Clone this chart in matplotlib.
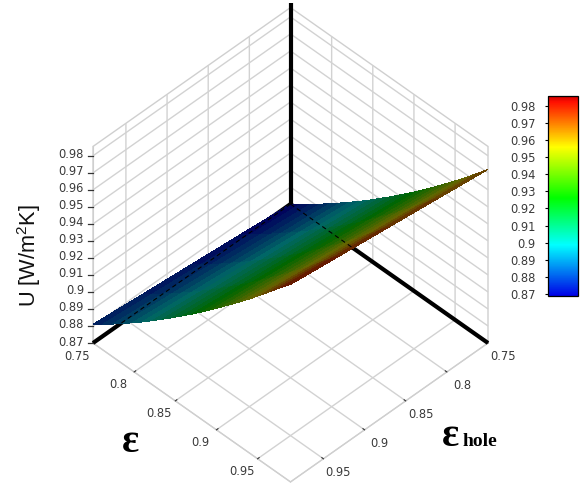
import numpy as np
import matplotlib
matplotlib.use("Agg")
import matplotlib.pyplot as plt
from matplotlib.colors import LinearSegmentedColormap, Normalize
from matplotlib.cm import ScalarMappable
from matplotlib.lines import Line2D
from mpl_toolkits.mplot3d import proj3d

plt.rcParams['font.family'] = ['DejaVu Sans']
plt.rcParams['mathtext.default'] = 'regular'

# Data
eps = [0.75 + 0.012 * i for i in range(21)]
eps_hole = [0.75, 0.81, 0.87, 0.93, 0.99]
u_hole_a = [0.8700, 0.8740, 0.8780, 0.8822, 0.8866, 0.8910, 0.8956, 0.9002, 0.9050, 0.9100, 0.9150,
            0.9202, 0.9254, 0.9308, 0.9364, 0.9420, 0.9478, 0.9536, 0.9596, 0.9658, 0.9720]
u_hole_b = [0.8728, 0.8768, 0.8808, 0.8850, 0.8895, 0.8940, 0.8986, 0.9033, 0.9082, 0.9132, 0.9182,
            0.9234, 0.9287, 0.9342, 0.9398, 0.9454, 0.9512, 0.9571, 0.9632, 0.9694, 0.9755]
u_hole_c = [0.8755, 0.8796, 0.8836, 0.8879, 0.8924, 0.8970, 0.9016, 0.9064, 0.9113, 0.9163, 0.9214,
            0.9267, 0.9320, 0.9375, 0.9431, 0.9488, 0.9547, 0.9606, 0.9667, 0.9729, 0.9790]
u_hole_d = [0.8782, 0.8824, 0.8865, 0.8908, 0.8953, 0.8999, 0.9046, 0.9095, 0.9144, 0.9195, 0.9246,
            0.9299, 0.9353, 0.9409, 0.9465, 0.9522, 0.9581, 0.9641, 0.9703, 0.9765, 0.9825]
u_hole_e = [0.8810, 0.8852, 0.8893, 0.8937, 0.8982, 0.9028, 0.9076, 0.9125, 0.9175, 0.9226, 0.9278,
            0.9331, 0.9386, 0.9442, 0.9499, 0.9556, 0.9615, 0.9676, 0.9738, 0.9801, 0.9860]
z_ticks = [0.87, 0.88, 0.89, 0.90, 0.91, 0.92, 0.93, 0.94, 0.95, 0.96, 0.97, 0.98]
z_labels = ['0.87', '0.88', '0.89', '0.9', '0.91', '0.92', '0.93', '0.94', '0.95', '0.96', '0.97', '0.98']
xy_ticks = [0.75, 0.80, 0.85, 0.90, 0.95]
xy_labels = ['0.75', '0.8', '0.85', '0.9', '0.95']
cbar_limits = (0.8688, 0.9858)
cbar_stops = [(0.0, '#0000e6'), (0.255, '#00ffff'), (0.49, '#00ff00'),
              (0.745, '#ffff00'), (0.97, '#ff1000'), (1.0, '#d00000')]
shade = 0.40

W, H = 582, 486
fig = plt.figure(figsize=(W / 100, H / 100), dpi=100)
ax = fig.add_axes([0.1, 0.1, 0.8, 0.8], projection='3d', computed_zorder=False)
ax.set_proj_type('ortho')
ax.view_init(elev=44.7, azim=45)
ax.set_box_aspect((1, 1, 0.99))
xl = (0.75, 0.99); yl = (0.75, 0.99); zl = (0.87, 0.9855)
ax.set_xlim(*xl, view_margin=0)
ax.set_ylim(*yl, view_margin=0)
ax.set_zlim(*zl, view_margin=0)

cmap = LinearSegmentedColormap.from_list('bar', cbar_stops, N=512)
norm = Normalize(*cbar_limits)

X, Y = np.meshgrid(eps_hole, eps)
Z = np.column_stack([u_hole_a, u_hole_b, u_hole_c, u_hole_d, u_hole_e])
fc = cmap(norm(Z))
fc[..., :3] *= shade
ax.plot_surface(X, Y, Z, rstride=1, cstride=1, facecolors=fc, linewidth=0,
                edgecolor='none', antialiased=False, shade=False, zorder=3)

# Thick black frame lines behind the surface, dashed continuation on top
kw = dict(color='black', lw=3.0, solid_capstyle='butt', clip_on=False)
ax.plot([xl[0], xl[1]], [yl[0], yl[0]], [zl[0], zl[0]], zorder=2, **kw)
ax.plot([xl[0], xl[0]], [yl[0], yl[1]], [zl[0], zl[0]], zorder=2, **kw)
ax.plot([xl[0], xl[0]], [yl[0], yl[0]], [zl[0], 0.988], zorder=2, **kw)
ax.plot([xl[0], xl[1]], [yl[0], yl[0]], [zl[0], zl[0]], color='black', lw=0.8, ls=(0, (4, 3)), zorder=4)
ax.plot([xl[0], xl[0]], [yl[0], yl[1]], [zl[0], zl[0]], color='black', lw=0.8, ls=(0, (4, 3)), zorder=4)

ax.set_xticks(xy_ticks); ax.set_xticklabels([''] * len(xy_ticks))
ax.set_yticks(xy_ticks); ax.set_yticklabels([''] * len(xy_ticks))
ax.set_zticks(z_ticks); ax.set_zticklabels([''] * len(z_ticks))
for axis in (ax.xaxis, ax.yaxis, ax.zaxis):
    axis.set_pane_color((1, 1, 1, 1))
    axis.pane.set_edgecolor('#cfcfcf')
    axis.line.set_color('#cfcfcf')
    axis._axinfo['grid'].update(color='#d2d2d2', linewidth=1.0)
    axis._axinfo['tick'].update(inward_factor=0.0, outward_factor=0.1)
ax.zaxis._axinfo['tick'].update(inward_factor=0.0, outward_factor=0.0)
ax.tick_params(axis='both', width=0.8, color='#333333')

def corner_px(x, y, z):
    ax.apply_aspect()
    px, py, _ = proj3d.proj_transform(x, y, z, ax.get_proj())
    return ax.transData.transform((px, py))

# Fit the box to the reference's pixel frame (left and right floor corners)
fig.canvas.draw()
a0 = corner_px(xl[1], yl[0], zl[0])
b0 = corner_px(xl[0], yl[1], zl[0])
pos = ax.get_position()
s2 = pos.width * W * 395.0 / abs(b0[0] - a0[0])
ax.set_position([pos.x0, pos.y0, s2 / W, s2 / H])
fig.canvas.draw()
a1 = corner_px(xl[1], yl[0], zl[0])
pos = ax.get_position()
ax.set_position([pos.x0 + (93 - a1[0]) / W, pos.y0 + ((H - 343) - a1[1]) / H, pos.width, pos.height])
fig.canvas.draw()

# Tick labels placed from the axes' own projection
lab = dict(fontsize=8.3, color='#3a3a3a', va='center')
for v, t in zip(xy_ticks, xy_labels):
    p = corner_px(xl[1], v, zl[0])
    fig.text((p[0] - 16) / W, (p[1] - 13) / H, t, ha='center', **lab)
    q = corner_px(v, yl[1], zl[0])
    fig.text((q[0] + 15) / W, (q[1] - 14) / H, t, ha='center', **lab)
for v, t in zip(z_ticks, z_labels):
    p = corner_px(xl[1], yl[0], v)
    fig.text((p[0] - 9) / W, (p[1] + 1) / H, t, ha='right', **lab)
    fig.add_artist(Line2D([(p[0] - 5) / W, p[0] / W], [p[1] / H, p[1] / H], color='#333333', lw=0.9))

# Colour bar
cax = fig.add_axes([548 / W, 1 - 296 / H, 30 / W, 200 / H])
cb = fig.colorbar(ScalarMappable(norm=norm, cmap=cmap), cax=cax)
cb.set_ticks(z_ticks); cb.set_ticklabels(z_labels)
cax.yaxis.set_ticks_position('left')
cax.tick_params(labelsize=8.3, labelcolor='#3a3a3a', length=2, width=0.8, pad=7)
cb.outline.set_linewidth(0.9)

# Titles
fig.text(29 / W, 1 - 256 / H, 'U [W/m$^{2}$K]', rotation=90, ha='center', va='center',
         fontsize=15.7, family='Liberation Sans', color='#111111')
fig.text(122 / W, 1 - 452 / H, '\u03b5', fontsize=29, family='Liberation Serif',
         fontweight='bold', ha='left', va='baseline')
fig.text(442 / W, 1 - 446 / H, '\u03b5', fontsize=29, family='Liberation Serif',
         fontweight='bold', ha='left', va='baseline')
fig.text(463 / W, 1 - 446 / H, 'hole', fontsize=14, family='Liberation Serif',
         fontweight='bold', ha='left', va='baseline')

fig.savefig('out.png', dpi=100)
